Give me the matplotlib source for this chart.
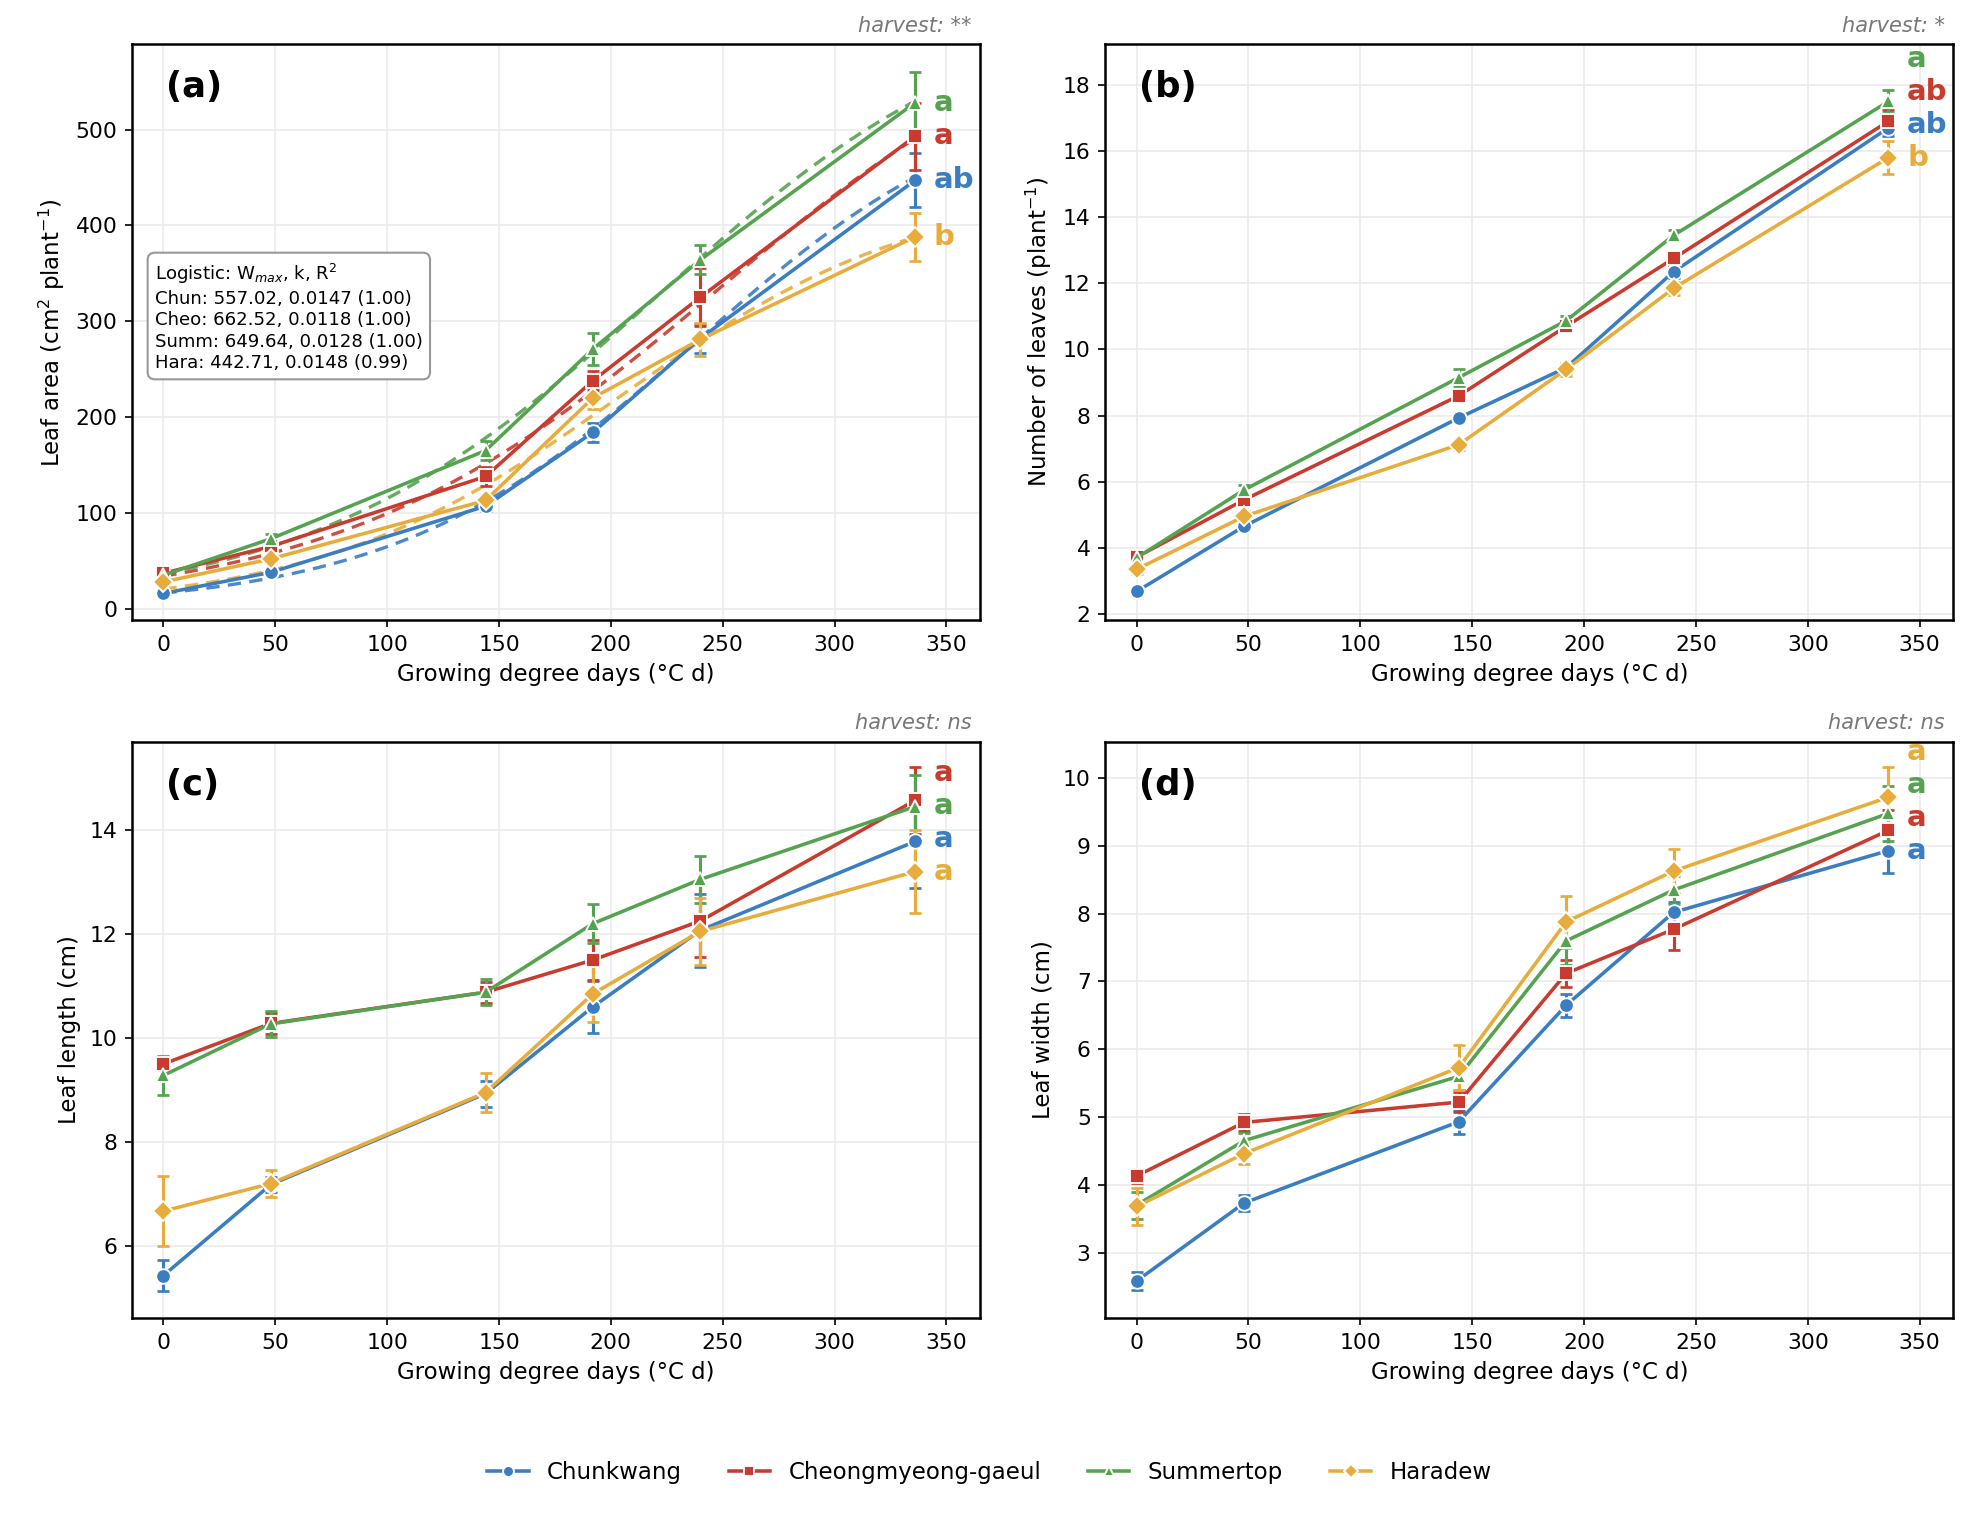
import numpy as np
import matplotlib
matplotlib.use("Agg")
import matplotlib.pyplot as plt

plt.rcParams['font.family'] = ['DejaVu Sans']

# ---------------- data ----------------
gdd = [0, 48, 144, 192, 240, 336]
cultivars = ["Chunkwang", "Cheongmyeong-gaeul", "Summertop", "Haradew"]
short_names = ["Chun", "Cheo", "Summ", "Hara"]

# (a) leaf area
area_chun = [16, 38, 107, 184, 282, 447]
area_cheo = [37, 65, 138, 238, 325, 493]
area_summ = [35, 73, 165, 271, 364, 528]
area_hara = [28, 52, 113, 220, 281, 388]
area_chun_se = [3, 4, 5, 10, 15, 28]
area_cheo_se = [4, 5, 10, 10, 30, 35]
area_summ_se = [3, 5, 10, 17, 15, 32]
area_hara_se = [3, 4, 6, 12, 17, 25]

# logistic fit parameters (Wmax, k, R2) and estimated inflection x0
logi_wmax = [557.02, 662.52, 649.64, 442.71]
logi_k = [0.0147, 0.0118, 0.0128, 0.0148]
logi_r2 = [1.00, 1.00, 1.00, 0.99]
logi_x0 = [238, 247, 220, 204]

# (b) number of leaves
nl_chun = [2.68, 4.65, 7.93, 9.45, 12.35, 16.70]
nl_cheo = [3.72, 5.45, 8.60, 10.70, 12.75, 16.90]
nl_summ = [3.70, 5.75, 9.15, 10.87, 13.45, 17.50]
nl_hara = [3.35, 4.95, 7.12, 9.40, 11.85, 15.80]
nl_chun_se = [0.08, 0.10, 0.10, 0.15, 0.20, 0.25]
nl_cheo_se = [0.15, 0.10, 0.20, 0.10, 0.20, 0.35]
nl_summ_se = [0.10, 0.15, 0.25, 0.15, 0.15, 0.35]
nl_hara_se = [0.15, 0.15, 0.15, 0.20, 0.20, 0.50]

# (c) leaf length
ll_chun = [5.43, 7.18, 8.93, 10.60, 12.07, 13.78]
ll_cheo = [9.50, 10.28, 10.88, 11.50, 12.25, 14.57]
ll_summ = [9.28, 10.27, 10.88, 12.20, 13.05, 14.45]
ll_hara = [6.67, 7.20, 8.95, 10.85, 12.05, 13.20]
ll_chun_se = [0.30, 0.15, 0.25, 0.50, 0.70, 0.90]
ll_cheo_se = [0.12, 0.20, 0.20, 0.38, 0.70, 0.65]
ll_summ_se = [0.38, 0.25, 0.25, 0.37, 0.45, 0.60]
ll_hara_se = [0.67, 0.26, 0.38, 0.55, 0.65, 0.80]

# (d) leaf width
lw_chun = [2.58, 3.73, 4.93, 6.65, 8.02, 8.93]
lw_cheo = [4.13, 4.92, 5.22, 7.12, 7.77, 9.23]
lw_summ = [3.70, 4.65, 5.60, 7.60, 8.35, 9.48]
lw_hara = [3.68, 4.46, 5.73, 7.88, 8.63, 9.72]
lw_chun_se = [0.13, 0.12, 0.18, 0.17, 0.15, 0.33]
lw_cheo_se = [0.10, 0.13, 0.15, 0.20, 0.30, 0.30]
lw_summ_se = [0.20, 0.12, 0.20, 0.35, 0.20, 0.40]
lw_hara_se = [0.27, 0.15, 0.33, 0.38, 0.32, 0.45]

letters_a = ["ab", "a", "a", "b"]
letters_b = ["ab", "ab", "a", "b"]
letters_c = ["a", "a", "a", "a"]
letters_d = ["a", "a", "a", "a"]

harvest_sig = ["harvest: **", "harvest: *", "harvest: ns", "harvest: ns"]
panel_tags = ["(a)", "(b)", "(c)", "(d)"]
ylabels = ["Leaf area (cm$^2$ plant$^{-1}$)", "Number of leaves (plant$^{-1}$)",
           "Leaf length (cm)", "Leaf width (cm)"]
xlabel = "Growing degree days (°C d)"

colors = ["#3a7dc1", "#c83b2e", "#55a250", "#e8ac3c"]
markers = ["o", "s", "^", "D"]

panels = [
    ([area_chun, area_cheo, area_summ, area_hara],
     [area_chun_se, area_cheo_se, area_summ_se, area_hara_se], letters_a),
    ([nl_chun, nl_cheo, nl_summ, nl_hara],
     [nl_chun_se, nl_cheo_se, nl_summ_se, nl_hara_se], letters_b),
    ([ll_chun, ll_cheo, ll_summ, ll_hara],
     [ll_chun_se, ll_cheo_se, ll_summ_se, ll_hara_se], letters_c),
    ([lw_chun, lw_cheo, lw_summ, lw_hara],
     [lw_chun_se, lw_cheo_se, lw_summ_se, lw_hara_se], letters_d),
]
ylims = [(-12, 589), (1.81, 19.23), (4.61, 15.70), (2.03, 10.54)]
yticks = [np.arange(0, 501, 100), np.arange(2, 19, 2), np.arange(6, 15, 2), np.arange(3, 11, 1)]

fig = plt.figure(figsize=(1979 / 150, 1524 / 150), dpi=150)
positions = [
    [0.0667, 0.593, 0.4285, 0.378],
    [0.5585, 0.593, 0.4285, 0.378],
    [0.0667, 0.135, 0.4285, 0.3784],
    [0.5585, 0.135, 0.4285, 0.3784],
]

handles = []
for p, (series, errs, letters) in enumerate(panels):
    ax = fig.add_axes(positions[p])
    ax.grid(True, color="#ebebeb", linewidth=0.8, zorder=0)
    ax.set_axisbelow(True)
    for i in range(4):
        ax.errorbar(gdd, series[i], yerr=errs[i], fmt="none", ecolor=colors[i],
                    elinewidth=1.5, capsize=3, capthick=1.3, zorder=3)
        ln, = ax.plot(gdd, series[i], color=colors[i], marker=markers[i],
                      markersize=7 if markers[i] != "D" else 6.5,
                      markeredgecolor="white", markeredgewidth=0.9,
                      linewidth=1.7, zorder=4, label=cultivars[i])
        if p == 0:
            handles.append(ln)
    if p == 0:
        xs = np.linspace(0, 336, 200)
        for i in range(4):
            fit = logi_wmax[i] / (1 + np.exp(-logi_k[i] * (xs - logi_x0[i])))
            ax.plot(xs, fit, color=colors[i], linestyle=(0, (4, 2.5)),
                    linewidth=1.6, alpha=0.9, zorder=2)
        txt = "Logistic: W$_{max}$, k, R$^2$\n" + "\n".join(
            f"{short_names[i]}: {logi_wmax[i]:.2f}, {logi_k[i]:.4f} ({logi_r2[i]:.2f})"
            for i in range(4))
        ax.text(0.027, 0.622, txt, transform=ax.transAxes, fontsize=8.7,
                va="top", ha="left", linespacing=1.25,
                bbox=dict(boxstyle="round,pad=0.4", facecolor="white",
                          edgecolor="#999999", linewidth=1.0), zorder=6)

    ax.set_xlim(-14, 365)
    ax.set_ylim(*ylims[p])
    ax.set_xticks(np.arange(0, 351, 50))
    ax.set_yticks(yticks[p])
    ax.tick_params(labelsize=10.5)
    ax.set_xlabel(xlabel, fontsize=11)
    ax.set_ylabel(ylabels[p], fontsize=11)
    for s in ax.spines.values():
        s.set_linewidth(1.2)
    ax.text(0.04, 0.955, panel_tags[p], transform=ax.transAxes, fontsize=17,
            fontweight="bold", va="top", ha="left")
    ax.text(0.99, 1.015, harvest_sig[p], transform=ax.transAxes, fontsize=10,
            style="italic", color="#777777", ha="right", va="bottom")

    # significance letters at the final harvest, de-overlapped
    y0, y1 = ylims[p]
    gap = 0.057 * (y1 - y0)
    order = sorted(range(4), key=lambda i: series[i][-1])
    prev = -np.inf
    for i in order:
        yv = max(series[i][-1], prev + gap)
        prev = yv
        ax.annotate(letters[i], xy=(gdd[-1], yv), xytext=(9, 0),
                    textcoords="offset points", color=colors[i],
                    fontsize=14, fontweight="bold", va="center", ha="left",
                    annotation_clip=False, zorder=7)

fig.legend(handles=handles, labels=cultivars, loc="center", ncol=4,
           bbox_to_anchor=(0.5, 0.034), frameon=False, fontsize=11,
           handlelength=1.8, columnspacing=2.05, markerscale=0.75)

fig.savefig("out.png", dpi=150)
